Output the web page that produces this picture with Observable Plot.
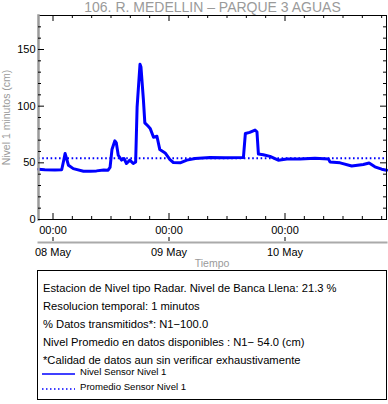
<!DOCTYPE html>
<html><head><meta charset="utf-8">
<script src="https://cdn.jsdelivr.net/npm/d3@7"></script>
<script src="https://cdn.jsdelivr.net/npm/@observablehq/plot@0.6"></script>
<style>
body{margin:0;background:#fff;font-family:"Liberation Sans",Arial,Helvetica,sans-serif;}
#wrap{position:relative;width:388px;height:404px;overflow:hidden;}
#wrap > svg{position:absolute;left:0;top:0;}
#xlab{position:absolute;left:38px;width:348px;top:257px;height:13px;line-height:13px;text-align:center;font-size:10.5px;color:#9a9a9a;}
#box{position:absolute;left:37px;top:270px;width:350px;height:130px;border:1px solid #000;box-sizing:border-box;}
.ln{position:absolute;left:5px;font-size:11.2px;white-space:nowrap;line-height:14px;height:14px;color:#000;}
.lg{position:absolute;left:42px;font-size:9.6px;white-space:nowrap;line-height:10px;height:10px;color:#000;}
.sw{position:absolute;left:4px;overflow:visible;}
</style></head><body><div id="wrap"></div>
<script>
const title = "106. R. MEDELLIN \u2013 PARQUE 3 AGUAS";
const yLabel = "Nivel 1 minutos (cm)";
const xLabel = "Tiempo";
const timeDomain = ["2019-05-07T21:00Z", "2019-05-10T21:00Z"];
const times = [
  "2019-05-07T21:00Z","2019-05-07T22:18Z","2019-05-08T00:24Z","2019-05-08T01:48Z","2019-05-08T02:12Z",
  "2019-05-08T02:30Z","2019-05-08T02:48Z","2019-05-08T03:12Z","2019-05-08T04:12Z","2019-05-08T06:18Z",
  "2019-05-08T07:42Z","2019-05-08T09:00Z","2019-05-08T10:30Z","2019-05-08T11:24Z","2019-05-08T11:48Z",
  "2019-05-08T12:12Z","2019-05-08T12:48Z","2019-05-08T13:06Z","2019-05-08T13:30Z","2019-05-08T14:12Z",
  "2019-05-08T14:42Z","2019-05-08T15:12Z","2019-05-08T15:54Z","2019-05-08T16:36Z","2019-05-08T17:06Z",
  "2019-05-08T17:24Z","2019-05-08T18:00Z","2019-05-08T18:12Z","2019-05-08T18:42Z","2019-05-08T19:00Z",
  "2019-05-08T19:42Z","2019-05-08T20:06Z","2019-05-08T20:48Z","2019-05-08T21:30Z","2019-05-08T22:06Z",
  "2019-05-08T23:12Z","2019-05-09T00:12Z","2019-05-09T00:54Z","2019-05-09T02:18Z","2019-05-09T03:42Z",
  "2019-05-09T05:24Z","2019-05-09T08:30Z","2019-05-09T11:36Z","2019-05-09T15:24Z","2019-05-09T15:48Z",
  "2019-05-09T16:42Z","2019-05-09T17:48Z","2019-05-09T18:12Z","2019-05-09T18:30Z","2019-05-09T19:30Z",
  "2019-05-09T20:54Z","2019-05-09T22:36Z","2019-05-10T00:24Z","2019-05-10T03:06Z","2019-05-10T06:12Z",
  "2019-05-10T09:00Z","2019-05-10T09:18Z","2019-05-10T11:24Z","2019-05-10T13:48Z","2019-05-10T16:12Z",
  "2019-05-10T17:24Z","2019-05-10T18:36Z","2019-05-10T20:00Z","2019-05-10T21:00Z"
];
const levels = [
  44.4, 43.9, 43.7, 43.9, 51.8,
  58.3, 53.8, 47.9, 44.9, 42.6,
  42.5, 42.9, 43.7, 43.5, 45.9,
  61.7, 69.4, 67.6, 56.7, 52.4,
  53.8, 49.4, 52.4, 49.4, 50.8,
  99.1, 137.0, 134.5, 106.0, 85.3,
  82.3, 80.4, 72.5, 73.5, 61.7,
  58.7, 52.8, 50.3, 50.0, 52.4,
  53.8, 54.8, 54.4, 54.8, 75.9,
  76.9, 78.9, 77.4, 57.7, 57.2,
  55.7, 52.3, 53.3, 53.3, 54.1,
  53.3, 50.8, 50.0, 47.2, 48.6,
  49.8, 46.5, 44.4, 43.5
];
const meanLevel = 54.0;
const yDomain = [0, 180];
const yMajorTicks = [0, 50, 100, 150];
const yMinorTicks = [10, 20, 30, 40, 60, 70, 80, 90, 110, 120, 130, 140, 160, 170];
const dayTicks = ["2019-05-08T00:00Z", "2019-05-09T00:00Z", "2019-05-10T00:00Z"];
const hourTicks = [
  "2019-05-08T04:00Z","2019-05-08T08:00Z","2019-05-08T12:00Z","2019-05-08T16:00Z","2019-05-08T20:00Z",
  "2019-05-09T04:00Z","2019-05-09T08:00Z","2019-05-09T12:00Z","2019-05-09T16:00Z","2019-05-09T20:00Z",
  "2019-05-10T04:00Z","2019-05-10T08:00Z","2019-05-10T12:00Z","2019-05-10T16:00Z","2019-05-10T20:00Z"
];
const infoLines = [
  "Estacion de Nivel tipo Radar. Nivel de Banca Llena: 21.3 %",
  "Resolucion temporal: 1 minutos",
  "% Datos transmitidos*: N1\u2212100.0",
  "Nivel Promedio en datos disponibles : N1\u2212 54.0 (cm)",
  "*Calidad de datos aun sin verificar exhaustivamente"
];
const legendLabels = ["Nivel Sensor Nivel 1", "Promedio Sensor Nivel 1"];

const series = times.map((t, i) => ({t: new Date(t), v: levels[i]}));
const days = dayTicks.map(d => new Date(d));
const hours = hourTicks.map(d => new Date(d));
const W = 388, H = 270, mL = 38, mR = 2, mT = 15, mB = 51;
const fw = W - mL - mR, fh = H - mT - mB;
const gray = "#9a9a9a";
const blue = "#0000ff";

const chart = Plot.plot({
  width: W, height: H,
  marginLeft: mL, marginRight: mR, marginTop: mT, marginBottom: mB,
  style: {fontFamily: "'Liberation Sans', Arial, Helvetica, sans-serif", background: "white", overflow: "visible"},
  x: {type: "utc", domain: timeDomain.map(d => new Date(d)), axis: null},
  y: {domain: yDomain},
  marks: [
    Plot.ruleY([meanLevel], {stroke: blue, strokeWidth: 2, strokeDasharray: "1.6,2.6"}),
    Plot.line(series, {x: "t", y: "v", stroke: blue, strokeWidth: 3, curve: "linear", strokeLinejoin: "round"}),
    Plot.frame({stroke: "#000", strokeWidth: 1}),
    Plot.frame({anchor: "left", stroke: gray, strokeWidth: 2.5}),
    Plot.tickY(yMajorTicks, {y: d => d, insetRight: fw - 6, stroke: "#000"}),
    Plot.tickY(yMinorTicks, {y: d => d, insetRight: fw - 3, stroke: "#000"}),
    Plot.tickY(yMajorTicks, {y: d => d, insetLeft: fw - 6, stroke: "#000"}),
    Plot.tickY(yMinorTicks, {y: d => d, insetLeft: fw - 3, stroke: "#000"}),
    Plot.tickX(days, {x: d => d, insetTop: fh - 6, stroke: "#000"}),
    Plot.tickX(hours, {x: d => d, insetTop: fh - 3, stroke: "#000"}),
    Plot.tickX(days, {x: d => d, insetBottom: fh - 6, stroke: "#000"}),
    Plot.tickX(hours, {x: d => d, insetBottom: fh - 3, stroke: "#000"}),
    Plot.axisY(yMajorTicks, {tickSize: 0, tickPadding: 3, fontSize: 11, label: null, color: "#000"}),
    Plot.text(days, {x: d => d, text: d => d3.utcFormat("%H:%M")(d), frameAnchor: "bottom", lineAnchor: "middle", dy: 11, fontSize: 11, fill: "#000"}),
    Plot.frame({anchor: "bottom", dy: 23, stroke: "#aaa", strokeWidth: 2}),
    Plot.tickX(days, {x: d => d, insetTop: fh - 4, dy: 22, stroke: "#000"}),
    Plot.text(days, {x: d => d, text: d => d3.utcFormat("%d %b")(d), frameAnchor: "bottom", lineAnchor: "middle", dy: 33, fontSize: 11, fill: "#000"}),
    Plot.text([yLabel], {frameAnchor: "left", textAnchor: "middle", lineAnchor: "middle", dx: -32, rotate: -90, fontSize: 10.5, fill: gray}),
    Plot.text([title], {frameAnchor: "top", lineAnchor: "middle", dy: -8, fontSize: 14, fill: gray})
  ]
});

const wrap = document.getElementById("wrap");
wrap.appendChild(chart);
const xl = document.createElement("div");
xl.id = "xlab";
xl.textContent = xLabel;
wrap.appendChild(xl);
const box = document.createElement("div");
box.id = "box";
wrap.appendChild(box);
const lineCenters = [17, 35, 53, 71, 89];
infoLines.forEach((s, i) => {
  const d = document.createElement("div");
  d.className = "ln";
  d.style.top = (lineCenters[i] - 7) + "px";
  d.textContent = s;
  box.appendChild(d);
});
const legCenters = [101, 116];
const dashes = [null, "1.5,2.5"];
legendLabels.forEach((s, i) => {
  const sw = d3.create("svg").attr("class", "sw").attr("width", 34).attr("height", 4)
    .style("top", (legCenters[i] - 0) + "px");
  sw.append("line").attr("x1", 0).attr("x2", 33).attr("y1", 2).attr("y2", 2)
    .attr("stroke", blue).attr("stroke-width", 1.5).attr("stroke-dasharray", dashes[i]);
  box.appendChild(sw.node());
  const d = document.createElement("div");
  d.className = "lg";
  d.style.top = (legCenters[i] - 5) + "px";
  d.textContent = s;
  box.appendChild(d);
});
</script></body></html>
